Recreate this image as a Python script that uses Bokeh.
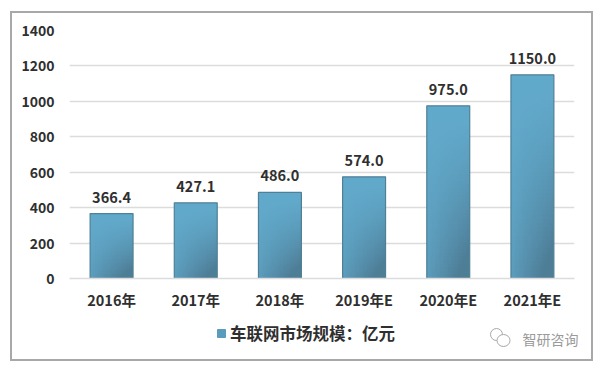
from bokeh.plotting import figure
from bokeh.layouts import column
from bokeh.models import ColumnDataSource, Legend, LegendItem, FixedTicker, Range1d
from bokeh.core.properties import value
from bokeh.embed import file_html
from bokeh.resources import INLINE
import numpy as np

categories = ["2016年", "2017年", "2018年", "2019年E", "2020年E", "2021年E"]
market_size = [366.4, 427.1, 486.0, 574.0, 975.0, 1150.0]
value_labels = ["366.4", "427.1", "486.0", "574.0", "975.0", "1150.0"]
y_ticks = [0, 200, 400, 600, 800, 1000, 1200, 1400]
series_name = "车联网市场规模：亿元"
watermark = "智研咨询"

FONT = "Noto Sans CJK SC"
INK = "#2f2f2f"
X0, Y0 = 12, 13          # where the chart starts inside the framed block
W = 579

p = figure(x_range=categories, y_range=Range1d(0, 1400), width=W, height=302,
           output_backend="svg", toolbar_location=None, frame_align=False,
           min_border_left=69 - X0, min_border_right=W - (574 - X0), min_border_top=30 - Y0,
           min_border_bottom=302 - (278 - Y0))
p.outline_line_color = None
p.background_fill_color = "white"
p.border_fill_color = "white"
p.x_range.range_padding = 0
p.xgrid.grid_line_color = None
p.ygrid.grid_line_color = "#dcdcdc"
p.ygrid.grid_line_width = 1.6

for ax in (p.xaxis[0], p.yaxis[0]):
    ax.major_tick_line_color = None
    ax.minor_tick_line_color = None
    ax.major_label_text_font = FONT
    ax.major_label_text_font_style = "bold"
    ax.major_label_text_color = INK
p.xaxis[0].major_label_text_font_size = "14.5px"
p.yaxis[0].major_label_text_font_size = "14px"
p.xaxis[0].axis_line_color = "#dcdcdc"
p.xaxis[0].axis_line_width = 1.6
p.xaxis[0].major_label_standoff = 4
p.yaxis[0].axis_line_color = None
p.yaxis[0].major_label_standoff = 9
p.yaxis[0].ticker = FixedTicker(ticks=y_ticks)

# diagonal shading inside each bar
ny, nx = 48, 16
yy, xx = np.mgrid[0:ny, 0:nx]
u = xx / (nx - 1)
v = yy / (ny - 1)              # 0 at the bottom, 1 at the top
light = np.array([98, 170, 204.0])
dark = np.array([78, 125, 150.0])
for i, val in enumerate(market_size):
    t = np.clip((1 - v) ** 1.5 * (0.25 + 0.75 * u) * 1.25, 0, 1)
    img = np.zeros((ny, nx), dtype=np.uint32)
    view = img.view(dtype=np.uint8).reshape((ny, nx, 4))
    for k in range(3):
        view[:, :, k] = (light[k] * (1 - t) + dark[k] * t).astype(np.uint8)
    view[:, :, 3] = 255
    p.image_rgba(image=[img], x=i + 0.245, y=0, dw=0.51, dh=val)

src = ColumnDataSource(dict(cat=categories, val=market_size, lab=value_labels))
p.vbar(x="cat", top="val", width=0.51, source=src, fill_color=None,
       line_color="#4f8096", line_width=1.2)
p.text(x="cat", y="val", text="lab", source=src, text_align="center", text_baseline="bottom",
       y_offset=-11, text_font=value(FONT), text_font_size="14.5px", text_font_style="bold",
       text_color=INK)

# footer strip: legend and watermark
FH = 44
f = figure(width=W, height=FH, x_range=Range1d(0, W), y_range=Range1d(FH, 0),
           output_backend="svg", toolbar_location=None, frame_align=False,
           min_border=0, min_border_left=0, min_border_right=0, min_border_top=0, min_border_bottom=0)
f.xaxis.visible = False
f.yaxis.visible = False
f.grid.visible = False
f.outline_line_color = None
f.border_fill_color = "white"

swatch = f.quad(left=[-50], right=[-40], top=[-50], bottom=[-40], fill_color="#5a9cbb", line_color="#5a9cbb")
legend = Legend(items=[LegendItem(label=series_name, renderers=[swatch])],
                location=(204, 14), orientation="horizontal",
                background_fill_alpha=0, border_line_color=None,
                glyph_width=10, glyph_height=10, label_text_font=FONT, label_text_font_size="16.5px",
                label_text_font_style="bold", label_text_color=INK, margin=0, padding=2, label_standoff=4)
f.add_layout(legend, "center")

f.text(x=[510], y=[23], text=[watermark], text_font=value(FONT), text_font_size="14px",
       text_color="#9a9a9a", text_baseline="middle", text_align="left")
f.ellipse(x=[484, 491], y=[19, 25], width=[12, 13], height=[12, 12], fill_color="white",
          line_color="#a8a8a8", line_width=1)

page = column(p, f, spacing=0, margin=(11, 0, 0, 10),
              styles={"border": "2px solid #a8a8a8", "width": "583px", "height": "350px",
                      "box-sizing": "border-box"})

open("out.html", "w").write(file_html(page, INLINE))
